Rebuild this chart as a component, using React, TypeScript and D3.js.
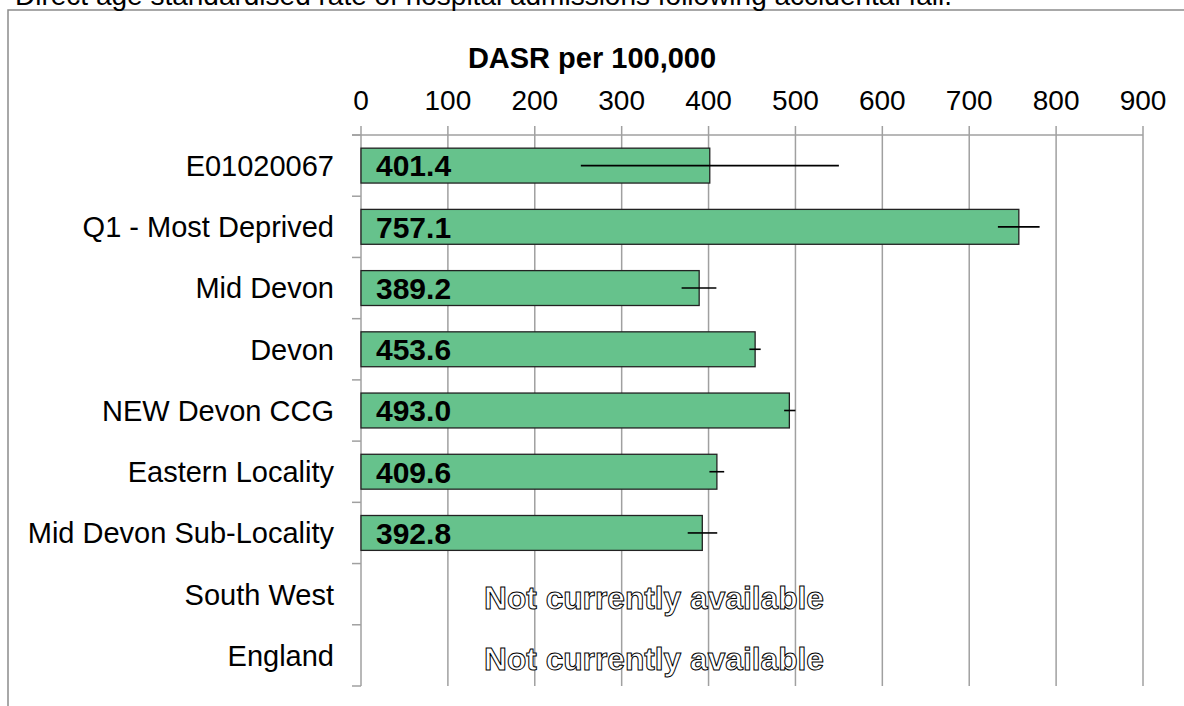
import React from "react";
import * as d3 from "d3";

const categories = [
  "E01020067",
  "Q1 - Most Deprived",
  "Mid Devon",
  "Devon",
  "NEW Devon CCG",
  "Eastern Locality",
  "Mid Devon Sub-Locality",
  "South West",
  "England",
];
const values: (number | null)[] = [401.4, 757.1, 389.2, 453.6, 493.0, 409.6, 392.8, null, null];
const lowerCI: (number | null)[] = [253, 733, 369, 447, 487, 401, 376, null, null];
const upperCI: (number | null)[] = [550, 781, 409, 460, 500, 418, 410, null, null];
const tickValues = [0, 100, 200, 300, 400, 500, 600, 700, 800, 900];
const title = "Direct age standardised rate of hospital admissions following accidental fall.";
const axisTitle = "DASR per 100,000";
const missingText = "Not currently available";

const W = 1184;
const H = 706;
const FONT = "Arial, 'Liberation Sans', Helvetica, sans-serif";
const GRID = "#a0a0a0";

export default function App() {
  const x = d3.scaleLinear().domain([0, 900]).range([361, 1143]);
  const y = d3
    .scaleBand<string>()
    .domain(categories)
    .range([135, 686])
    .paddingInner(0.43)
    .paddingOuter(0.215);
  const step = y.step();
  const [y0, y1] = y.range();
  const bounds = d3.range(categories.length + 1).map((i) => y0 + i * step);

  return (
    <svg
      width={W}
      height={H}
      style={{ position: "absolute", left: 0, top: 0, background: "#fff" }}
      fontFamily={FONT}
    >
      {/* outer frame */}
      <rect x={8} y={10} width={W + 20} height={H + 20} fill="#fff" stroke="#8c8c8c" strokeWidth={1.5} />
      <text x={15} y={5} fontSize={28} fill="#000">
        {title}
      </text>

      {/* axis title */}
      <text x={592} y={68} fontSize={29} fontWeight="bold" textAnchor="middle">
        {axisTitle}
      </text>

      {/* tick labels */}
      {tickValues.map((t) => (
        <text key={"tl" + t} x={x(t)} y={110} fontSize={28} textAnchor="middle">
          {t}
        </text>
      ))}

      {/* gridlines */}
      {tickValues.map((t) => (
        <line key={"g" + t} x1={x(t)} x2={x(t)} y1={126} y2={y1} stroke={GRID} strokeWidth={1.5} />
      ))}
      {/* top axis */}
      <line x1={x(0) - 9} x2={x(900)} y1={y0} y2={y0} stroke={GRID} strokeWidth={1.5} />
      {/* left axis ticks */}
      {bounds.map((b, i) => (
        <line key={"lt" + i} x1={x(0) - 9} x2={x(0)} y1={b} y2={b} stroke={GRID} strokeWidth={1.5} />
      ))}

      {/* category labels */}
      {categories.map((c) => (
        <text
          key={"c" + c}
          x={334}
          y={(y(c) as number) + y.bandwidth() / 2}
          dy="0.36em"
          fontSize={29}
          textAnchor="end"
        >
          {c}
        </text>
      ))}

      {/* bars */}
      {categories.map((c, i) => {
        const v = values[i];
        if (v == null) return null;
        return (
          <rect
            key={"b" + c}
            x={x(0)}
            y={y(c)}
            width={x(v) - x(0)}
            height={y.bandwidth()}
            fill="#66c28c"
            stroke="#222"
            strokeWidth={1.3}
          />
        );
      })}

      {/* error bars */}
      {categories.map((c, i) => {
        const lo = lowerCI[i];
        const hi = upperCI[i];
        if (lo == null || hi == null) return null;
        const cy = (y(c) as number) + y.bandwidth() / 2;
        return <line key={"e" + c} x1={x(lo)} x2={x(hi)} y1={cy} y2={cy} stroke="#000" strokeWidth={1.6} />;
      })}

      {/* value labels */}
      {categories.map((c, i) => {
        const v = values[i];
        if (v == null) return null;
        return (
          <text
            key={"v" + c}
            x={x(0) + 15}
            y={(y(c) as number) + y.bandwidth() / 2}
            dy="0.36em"
            fontSize={30}
            fontWeight="bold"
          >
            {v.toFixed(1)}
          </text>
        );
      })}

      {/* missing labels */}
      {categories.map((c, i) => {
        if (values[i] != null) return null;
        return (
          <text
            key={"m" + c}
            x={654}
            y={(y(c) as number) + y.bandwidth() / 2 + 3}
            dy="0.36em"
            fontSize={31.7}
            fontWeight="bold"
            textAnchor="middle"
            fill="#fff"
            stroke="#000"
            strokeWidth={1}
          >
            {missingText}
          </text>
        );
      })}
    </svg>
  );
}
